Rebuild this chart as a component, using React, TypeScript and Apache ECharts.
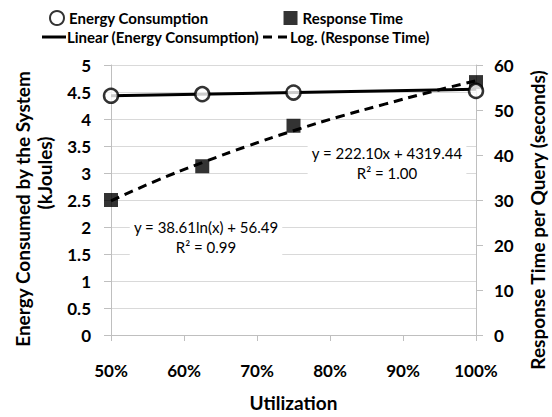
import React, { useEffect, useRef } from "react";
import * as echarts from "echarts";

const utilization = [0.5, 0.625, 0.75, 1.0];
const energyKJ = [4.43, 4.46, 4.49, 4.52];
const responseSec = [30.0, 37.5, 46.5, 56.2];

const linearTrendX = [0.5, 1.0];
const linearTrendY = [4.43, 4.55];

const logTrendX = [0.5, 0.5625, 0.625, 0.6875, 0.75, 0.8125, 0.875, 0.9375, 1.0];
const logTrendY = [29.8, 34.3, 38.3, 42.0, 45.4, 48.5, 51.3, 54.0, 56.5];

const xTickPercents = [50, 60, 70, 80, 90, 100];

const linearLabel = "y = 222.10x + 4319.44\nR² = 1.00";
const logLabel = "y = 38.61ln(x) + 56.49\nR² = 0.99";
const trendNames = ["Linear (Energy Consumption)", "Log. (Response Time)"];

const FONT = "Lato, 'Open Sans', sans-serif";

export default function App() {
  const ref = useRef<HTMLDivElement>(null);
  useEffect(() => {
    if (!ref.current) return;
    const chart = echarts.init(ref.current, null, { renderer: "svg" });
    const pair = (xs: number[], ys: number[]) => xs.map((x, i) => [x, ys[i]]);
    const gray = "#bfbfbf";
    const tickLabel = { color: "#000", fontWeight: "bold", fontSize: 17, fontFamily: FONT };
    const legendFont = `bold 15px ${FONT}`;
    const titleFont = `bold 19px ${FONT}`;
    chart.setOption({
      animation: false,
      backgroundColor: "#fff",
      textStyle: { fontFamily: FONT },
      grid: { left: 111, right: 76, top: 65, bottom: 74.5 },
      legend: [
        {
          data: [
            { name: "Energy Consumption", icon: "circle" },
            { name: "Response Time", icon: "rect" },
          ],
          left: 44,
          top: 5,
          itemWidth: 14,
          itemHeight: 14,
          itemGap: 75,
          textStyle: { color: "#000", fontWeight: "bold", fontSize: 15, fontFamily: FONT },
        },
      ],
      xAxis: {
        type: "value",
        min: 0.5,
        max: 1.0,
        interval: 0.1,
        name: "Utilization",
        nameLocation: "middle",
        nameGap: 58,
        nameTextStyle: { color: "#000", fontWeight: "bold", fontSize: 19, fontFamily: FONT },
        axisLine: { show: true, lineStyle: { color: gray, width: 1 } },
        axisTick: { show: true, length: 6, lineStyle: { color: gray } },
        splitLine: { show: false },
        axisLabel: {
          ...tickLabel,
          margin: 27,
          formatter: (v: number) => {
            const p = Math.round(v * 100);
            return xTickPercents.includes(p) ? p + "%" : "";
          },
        },
      },
      yAxis: [
        {
          type: "value",
          min: 0,
          max: 5,
          interval: 0.5,
          position: "left",
          axisLine: { show: true, lineStyle: { color: gray, width: 1 } },
          axisTick: { show: true, length: 7, lineStyle: { color: gray } },
          splitLine: { show: true, lineStyle: { color: "#d9d9d9", width: 1 } },
          axisLabel: { ...tickLabel, margin: 20 },
        },
        {
          type: "value",
          min: 0,
          max: 60,
          interval: 10,
          position: "right",
          axisLine: { show: true, lineStyle: { color: gray, width: 1 } },
          axisTick: { show: true, length: 7, lineStyle: { color: gray } },
          splitLine: { show: false },
          axisLabel: { ...tickLabel, margin: 18 },
        },
      ],
      series: [
        {
          name: trendNames[0],
          type: "line",
          yAxisIndex: 0,
          data: pair(linearTrendX, linearTrendY),
          symbol: "none",
          lineStyle: { color: "#000", width: 3 },
          itemStyle: { color: "#000" },
          z: 2,
        },
        {
          name: trendNames[1],
          type: "line",
          yAxisIndex: 1,
          smooth: true,
          data: pair(logTrendX, logTrendY),
          symbol: "none",
          lineStyle: { color: "#000", width: 3, type: [9, 6] },
          itemStyle: { color: "#000" },
          z: 2,
        },
        {
          name: "Response Time",
          type: "scatter",
          yAxisIndex: 1,
          data: pair(utilization, responseSec),
          symbol: "rect",
          symbolSize: 14,
          itemStyle: { color: "#000" },
          z: 3,
        },
        {
          name: "Energy Consumption",
          type: "scatter",
          yAxisIndex: 0,
          data: pair(utilization, energyKJ),
          symbol: "circle",
          symbolSize: 14,
          itemStyle: { color: "#fff", borderColor: "#000", borderWidth: 2.5 },
          z: 4,
        },
      ],
      graphic: [
        {
          type: "line",
          shape: { x1: 42, y1: 37, x2: 66, y2: 37 },
          style: { stroke: "#000", lineWidth: 3 },
        },
        {
          type: "text",
          x: 67,
          y: 37,
          style: { text: trendNames[0], fill: "#000", font: legendFont, align: "left", verticalAlign: "middle" },
        },
        {
          type: "line",
          shape: { x1: 263, y1: 37, x2: 289, y2: 37 },
          style: { stroke: "#000", lineWidth: 3, lineDash: [9, 6] },
        },
        {
          type: "text",
          x: 290,
          y: 37,
          style: { text: trendNames[1], fill: "#000", font: legendFont, align: "left", verticalAlign: "middle" },
        },
        {
          type: "text",
          x: 22,
          y: 209,
          rotation: Math.PI / 2,
          style: {
            text: "Energy Consumed by the System",
            fill: "#000",
            font: titleFont,
            align: "center",
            verticalAlign: "middle",
          },
        },
        {
          type: "text",
          x: 44,
          y: 173,
          rotation: Math.PI / 2,
          style: {
            text: "(kJoules)",
            fill: "#000",
            font: titleFont,
            align: "center",
            verticalAlign: "middle",
          },
        },
        {
          type: "text",
          x: 537,
          y: 220,
          rotation: Math.PI / 2,
          style: {
            text: "Response Time per Query (seconds)",
            fill: "#000",
            font: titleFont,
            align: "center",
            verticalAlign: "middle",
          },
        },
        {
          type: "text",
          x: 387,
          y: 163,
          z: 10,
          style: {
            text: linearLabel,
            fill: "#000",
            font: `15px ${FONT}`,
            align: "center",
            verticalAlign: "middle",
            lineHeight: 20,
            backgroundColor: "#fff",
            padding: [0, 4],
          },
        },
        {
          type: "text",
          x: 206,
          y: 237,
          z: 10,
          style: {
            text: logLabel,
            fill: "#000",
            font: `15px ${FONT}`,
            align: "center",
            verticalAlign: "middle",
            lineHeight: 20,
            backgroundColor: "#fff",
            padding: [0, 4],
          },
        },
      ],
    });
    return () => chart.dispose();
  }, []);
  return (
    <div
      ref={ref}
      style={{ position: "absolute", left: 0, top: 0, width: 552, height: 417 }}
    />
  );
}
